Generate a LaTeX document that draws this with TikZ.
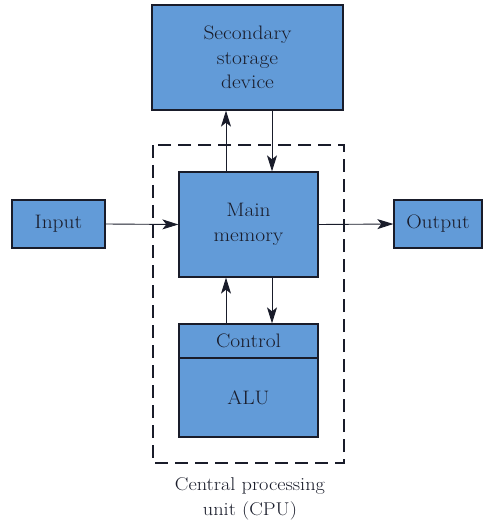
\documentclass[tikz,border=0pt]{standalone}
\usepackage{fontspec}
\setmainfont{Latin Modern Roman}[FakeStretch=1.1]
\usetikzlibrary{arrows.meta}
\definecolor{boxblue}{RGB}{98,155,216}
\definecolor{inkdark}{RGB}{25,28,42}
\begin{document}
\begin{tikzpicture}[x=1pt,y=-1pt,
  unit/.style={draw=inkdark,line width=1.3pt,fill=boxblue,text=inkdark,
    inner sep=0pt,align=center,font=\fontsize{19.5}{24.5}\selectfont},
  flow/.style={draw=inkdark,line width=0.9pt,-{Stealth[length=16pt,width=10pt,inset=4pt]}},
  cpu/.style={draw=inkdark,line width=1.4pt,dash pattern=on 13pt off 7pt}]
  \useasboundingbox (0,0) rectangle (484,526);

  % CPU boundary
  \draw[cpu] (153,145) rectangle (344,463);

  % units
  \node[unit,minimum width=191pt,minimum height=105pt] (sec) at (247.5,57.5)
    {Secondary\\storage\\device};
  \node[unit,minimum width=139pt,minimum height=105pt] (mem) at (248.5,224.5)
    {Main\\memory};
  \node[unit,minimum width=139pt,minimum height=34pt] (ctl) at (248.5,341)
    {Control};
  \node[unit,minimum width=139pt,minimum height=79pt] (alu) at (248.5,397.5)
    {ALU};
  \node[unit,minimum width=93pt,minimum height=48pt] (in) at (58.5,224)
    {Input};
  \node[unit,minimum width=88pt,minimum height=48pt] (out) at (438,224)
    {Output};

  % data paths
  \draw[flow] (in.east) -- (mem.west);
  \draw[flow] (mem.east) -- (out.west);
  \draw[flow] ([xshift=-22.5pt]mem.north) -- ([xshift=-21.5pt]sec.south);
  \draw[flow] ([xshift=24.5pt]sec.south) -- ([xshift=23.5pt]mem.north);
  \draw[flow] ([xshift=-22.5pt]ctl.north) -- ([xshift=-22.5pt]mem.south);
  \draw[flow] ([xshift=23.5pt]mem.south) -- ([xshift=23.5pt]ctl.north);

  % caption
  \node[text=inkdark,align=center,font=\fontsize{18.5}{25}\selectfont] (cap)
    at (250,499) {Central processing\\unit (CPU)};
\end{tikzpicture}
\end{document}
